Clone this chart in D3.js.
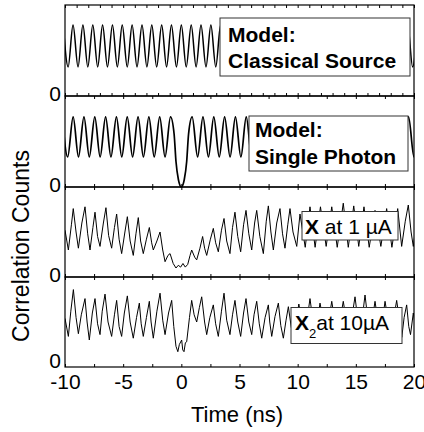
<!DOCTYPE html>
<html>
<head>
<meta charset="utf-8">
<script src="https://cdn.jsdelivr.net/npm/d3@7/dist/d3.min.js"></script>
<style>
  html, body { margin: 0; padding: 0; background: #fff; }
  svg { display: block; font-family: "Liberation Sans", Arial, sans-serif; }
</style>
</head>
<body>
<svg id="chart" width="424" height="432"></svg>
<script>
// Time axis (ns)
const timeDomain = [-10, 20];
const timeTickLabels = [-10, -5, 0, 5, 10, 15, 20];

// Model: classical source — oscillation extrema (ns)
const classicalPeakTimes = [-10.15, -9.31, -8.46, -7.61, -6.77, -5.92, -5.08, -4.23, -3.38, -2.54, -1.69, -0.85,
  0, 0.85, 1.69, 2.54, 3.38, 4.23, 5.08, 5.92, 6.77, 7.61, 8.46, 9.31, 10.15, 11.00, 11.84, 12.69,
  13.54, 14.38, 15.23, 16.07, 16.92, 17.77, 18.61, 19.46, 20.30];
const classicalTroughTimes = [-9.73, -8.88, -8.04, -7.19, -6.35, -5.50, -4.65, -3.81, -2.96, -2.12, -1.27, -0.42,
  0.42, 1.27, 2.12, 2.96, 3.81, 4.65, 5.50, 6.35, 7.19, 8.04, 8.88, 9.73, 10.57, 11.42, 12.27,
  13.11, 13.96, 14.80, 15.65, 16.50, 17.34, 18.19, 19.03, 19.88];
const classicalPeakLevel = 78;
const classicalTroughLevel = 32;

// Model: single photon — oscillation extrema with antibunching dip at zero delay
const singlePeakTimes = [-10.23, -9.30, -8.37, -7.44, -6.51, -5.58, -4.65, -3.72, -2.79, -1.86, -0.93,
  0.93, 1.86, 2.79, 3.72, 4.65, 5.58, 6.51, 7.44, 8.37, 9.30, 10.23, 11.16, 12.09, 13.02, 13.95,
  14.88, 15.81, 16.74, 17.67, 18.60, 19.53, 20.46];
const singleTroughTimes = [-9.77, -8.84, -7.91, -6.98, -6.05, -5.12, -4.19, -3.26, -2.33, -1.40,
  1.40, 2.33, 3.26, 4.19, 5.12, 6.05, 6.98, 7.91, 8.84, 9.77, 10.70, 11.63, 12.56, 13.49, 14.42,
  15.35, 16.28, 17.21, 18.14, 19.07, 20.00];
const singlePeakLevel = 77;
const singleTroughLevel = 33;
const singleDip = [[-0.62, 58], [-0.46, 28], [-0.25, 8], [0, 0], [0.25, 8], [0.46, 28], [0.62, 58]];

// Measured: X at 1 µA  [time (ns), counts]
const x1uA = [
  [-10.0, 52], [-9.71, 30], [-9.45, 58], [-9.29, 76], [-9.05, 50], [-8.85, 32], [-8.55, 60], [-8.28, 78],
  [-8.05, 48], [-7.85, 30], [-7.6, 55], [-7.42, 72], [-7.2, 45], [-6.99, 34], [-6.7, 60], [-6.48, 77],
  [-6.25, 46], [-5.99, 32], [-5.75, 55], [-5.56, 70], [-5.35, 42], [-5.13, 26], [-4.85, 50], [-4.64, 67],
  [-4.4, 40], [-4.13, 24], [-3.9, 48], [-3.70, 66], [-3.5, 40], [-3.27, 26], [-3.0, 42], [-2.75, 55],
  [-2.55, 38], [-2.41, 30], [-2.1, 40], [-1.83, 50], [-1.6, 30], [-1.40, 17], [-1.15, 24], [-0.97, 26],
  [-0.7, 15], [-0.46, 10], [-0.26, 13], [-0.06, 11], [0.14, 15], [0.34, 11], [0.55, 14], [0.75, 24],
  [0.89, 30], [1.15, 22], [1.32, 19], [1.6, 32], [1.83, 45], [2.0, 32], [2.18, 24], [2.5, 42],
  [2.75, 54], [2.95, 38], [3.18, 28], [3.45, 52], [3.67, 65], [3.9, 40], [4.18, 26], [4.4, 55],
  [4.61, 72], [4.85, 45], [5.10, 28], [5.35, 58], [5.56, 74], [5.8, 48], [6.05, 30], [6.3, 60],
  [6.48, 74], [6.75, 45], [7.05, 26], [7.3, 62], [7.48, 79], [7.7, 50], [7.91, 30], [8.2, 60],
  [8.48, 76], [8.7, 48], [8.91, 32], [9.15, 58], [9.34, 76], [9.6, 50], [9.92, 34], [10.2, 70],
  [10.65, 33], [11.06, 78], [11.5, 33], [11.96, 78], [12.45, 34], [12.93, 78], [13.4, 33], [13.92, 82],
  [14.35, 33], [14.82, 79], [15.25, 34], [15.70, 78], [16.15, 33], [16.65, 74], [17.15, 34], [17.65, 76],
  [18.1, 33], [18.6, 76], [18.94, 34], [19.25, 62], [19.51, 80], [19.75, 50], [19.94, 34], [20.2, 60]
];

// Measured: X2 at 10 µA  [time (ns), counts]
const x2_10uA = [
  [-10.0, 54], [-9.71, 34], [-9.5, 62], [-9.28, 86], [-9.05, 55], [-8.85, 37], [-8.6, 58], [-8.28, 76],
  [-8.1, 50], [-7.91, 30], [-7.65, 60], [-7.42, 76], [-7.2, 48], [-6.99, 36], [-6.8, 62], [-6.56, 81],
  [-6.3, 50], [-5.99, 34], [-5.75, 58], [-5.56, 74], [-5.35, 45], [-5.13, 34], [-4.9, 60], [-4.64, 79],
  [-4.4, 50], [-4.13, 32], [-3.85, 55], [-3.61, 71], [-3.45, 48], [-3.27, 34], [-3.0, 55], [-2.75, 73],
  [-2.6, 50], [-2.41, 32], [-2.1, 62], [-1.83, 82], [-1.6, 52], [-1.40, 36], [-1.1, 60], [-0.83, 74],
  [-0.65, 45], [-0.46, 23], [-0.30, 17], [-0.17, 25], [0.03, 30], [0.12, 19], [0.23, 17], [0.35, 27],
  [0.46, 28], [0.7, 55], [0.89, 74], [1.1, 58], [1.32, 50], [1.55, 66], [1.75, 78], [2.0, 50],
  [2.18, 36], [2.45, 55], [2.75, 69], [2.95, 48], [3.18, 34], [3.45, 62], [3.67, 82], [3.9, 52],
  [4.18, 36], [4.4, 58], [4.61, 74], [4.85, 50], [5.10, 34], [5.35, 60], [5.56, 76], [5.8, 50],
  [6.05, 36], [6.25, 58], [6.48, 73], [6.7, 48], [6.91, 32], [7.2, 55], [7.48, 69], [7.6, 50],
  [7.77, 34], [8.05, 56], [8.34, 71], [8.55, 46], [8.77, 32], [9.0, 52], [9.2, 67], [9.45, 44],
  [9.65, 33], [10.1, 70], [10.6, 33], [11.06, 76], [11.5, 33], [11.92, 71], [12.45, 34], [12.93, 73],
  [13.4, 33], [13.92, 73], [14.4, 34], [14.93, 78], [15.35, 33], [15.79, 80], [16.2, 34], [16.65, 73],
  [17.1, 33], [17.51, 73], [18.0, 34], [18.51, 74], [18.95, 33], [19.15, 55], [19.37, 69], [19.55, 45],
  [19.7, 36], [19.94, 60], [20.2, 40]
];

// ---------------------------------------------------------------------------
const svg = d3.select("#chart");
const left = 65, right = 414;
const panelEdges = [5, 96, 187, 277, 367];

const x = d3.scaleLinear().domain(timeDomain).range([left, right]);

function extremaSeries(peaks, troughs, peakLevel, troughLevel, extra) {
  const pts = peaks.map(t => [t, peakLevel])
    .concat(troughs.map(t => [t, troughLevel]))
    .concat(extra || []);
  return pts.sort((a, b) => a[0] - b[0]);
}

const panels = [
  { data: extremaSeries(classicalPeakTimes, classicalTroughTimes, classicalPeakLevel, classicalTroughLevel),
    curve: d3.curveMonotoneX, width: 1.5, tickStep: 1 },
  { data: extremaSeries(singlePeakTimes, singleTroughTimes, singlePeakLevel, singleTroughLevel, singleDip),
    curve: d3.curveMonotoneX, width: 1.7, tickStep: 2.5 },
  { data: x1uA, curve: d3.curveLinear, width: 1.0, tickStep: 2.5 },
  { data: x2_10uA, curve: d3.curveLinear, width: 1.0, tickStep: 2.5 }
];

const defs = svg.append("defs");

panels.forEach((p, i) => {
  const top = panelEdges[i], bottom = panelEdges[i + 1];
  const y = d3.scaleLinear().domain([0, 100]).range([bottom, top]);

  defs.append("clipPath").attr("id", "clip" + i)
    .append("rect").attr("x", left).attr("y", top - 1).attr("width", right - left).attr("height", bottom - top + 2);

  const line = d3.line().x(d => x(d[0])).y(d => y(d[1])).curve(p.curve);
  svg.append("path")
    .datum(p.data)
    .attr("clip-path", "url(#clip" + i + ")")
    .attr("fill", "none")
    .attr("stroke", "#000")
    .attr("stroke-width", p.width)
    .attr("stroke-linejoin", "round")
    .attr("d", line);

  // inward ticks on the top and bottom edge of each panel
  const ticks = d3.range(timeDomain[0], timeDomain[1] + 0.001, p.tickStep);
  svg.append("g").attr("transform", `translate(0,${bottom})`)
    .call(d3.axisBottom(x).tickValues(ticks).tickSizeInner(-3).tickSizeOuter(0).tickFormat(""))
    .call(g => g.select(".domain").remove());
  svg.append("g").attr("transform", `translate(0,${top})`)
    .call(d3.axisTop(x).tickValues(ticks).tickSizeInner(-3).tickSizeOuter(0).tickFormat(""))
    .call(g => g.select(".domain").remove());

  // zero label on the left
  svg.append("text")
    .attr("x", left - 4).attr("y", y(0) + (i === 3 ? 1 : 5))
    .attr("text-anchor", "end")
    .attr("font-size", 21)
    .text("0");
});

// panel frames
panels.forEach((p, i) => {
  const top = panelEdges[i], bottom = panelEdges[i + 1];
  svg.append("rect")
    .attr("x", left).attr("y", top).attr("width", right - left).attr("height", bottom - top)
    .attr("fill", "none").attr("stroke", "#000").attr("stroke-width", 1.2);
});

// caption boxes
function box(x0, y0, w, h) {
  svg.append("rect").attr("x", x0).attr("y", y0).attr("width", w).attr("height", h)
    .attr("fill", "#fff").attr("stroke", "#333").attr("stroke-width", 1);
}

box(220, 18, 190, 58);
svg.append("text").attr("x", 228).attr("y", 41.5).attr("font-size", 21).attr("font-weight", "bold").text("Model:");
svg.append("text").attr("x", 228).attr("y", 68).attr("font-size", 21).attr("font-weight", "bold").text("Classical Source");

box(249, 116, 159, 55);
svg.append("text").attr("x", 255).attr("y", 137).attr("font-size", 21).attr("font-weight", "bold").text("Model:");
svg.append("text").attr("x", 255).attr("y", 163.5).attr("font-size", 21).attr("font-weight", "bold").text("Single Photon");

box(302, 211.5, 96, 28.5);
const t3 = svg.append("text").attr("x", 305).attr("y", 234).attr("font-size", 21);
t3.append("tspan").attr("font-weight", "bold").text("X");
t3.append("tspan").text(" at 1 \u00b5A");

box(291, 307.5, 111, 36);
const t4 = svg.append("text").attr("x", 295).attr("y", 330).attr("font-size", 21);
t4.append("tspan").attr("font-weight", "bold").text("X");
t4.append("tspan").attr("font-size", 13).attr("dy", 8).text("2");
t4.append("tspan").attr("dy", -8).text("at 10\u00b5A");

// bottom time labels
svg.append("g").attr("transform", `translate(0,${panelEdges[4]})`)
  .call(d3.axisBottom(x).tickValues(timeTickLabels).tickSize(0).tickPadding(7).tickFormat(d => String(d)))
  .call(g => g.select(".domain").remove())
  .call(g => g.selectAll("text").attr("font-size", 21).attr("font-family", "Liberation Sans, Arial, sans-serif").attr("fill", "#000"));

// axis titles
svg.append("text")
  .attr("x", 237).attr("y", 422)
  .attr("text-anchor", "middle")
  .attr("font-size", 22)
  .text("Time (ns)");

svg.append("text")
  .attr("transform", "translate(29,246) rotate(-90)")
  .attr("text-anchor", "middle")
  .attr("font-size", 23)
  .text("Correlation Counts");
</script>
</body>
</html>
